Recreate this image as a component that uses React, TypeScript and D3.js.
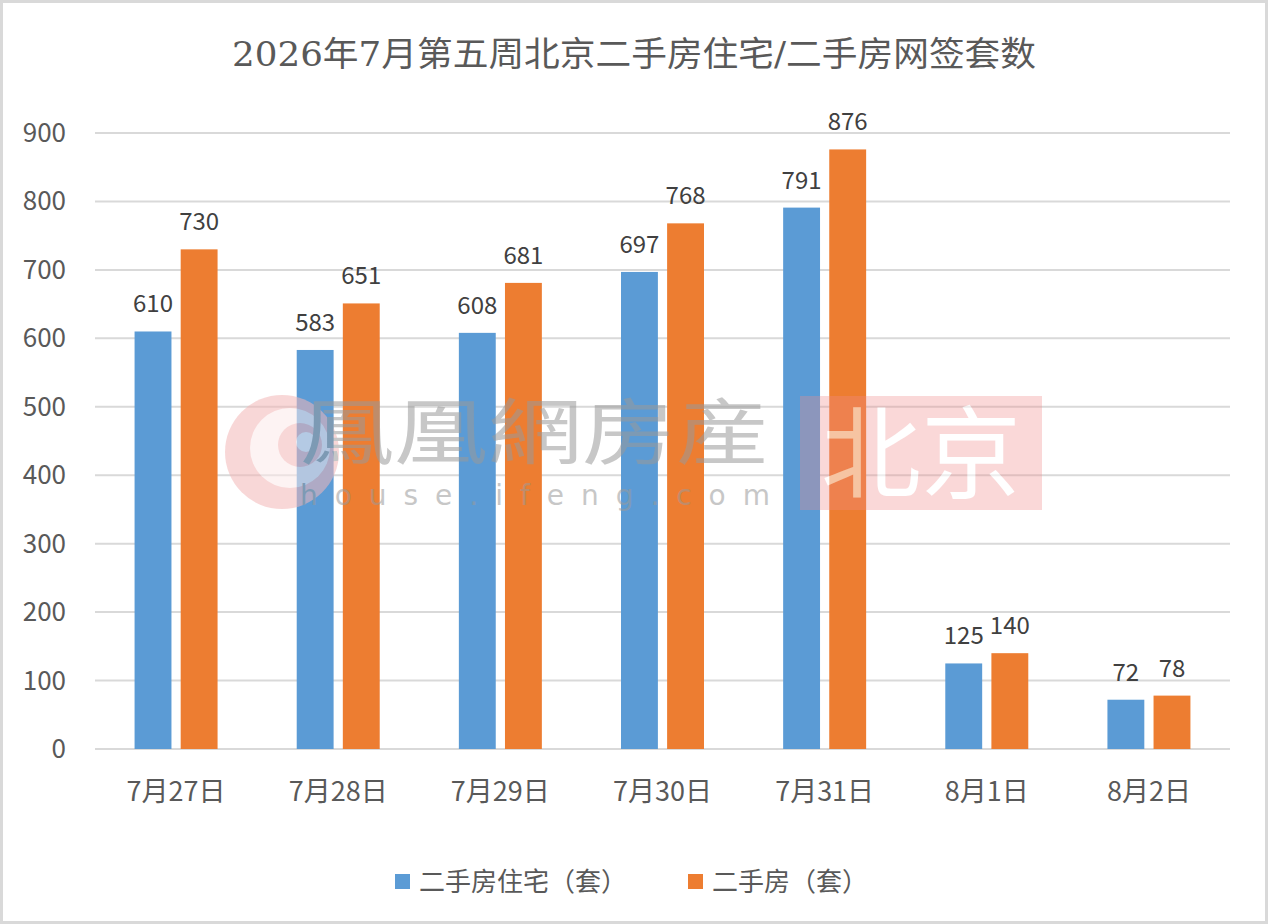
import React, { FC } from "react"
import { scaleBand, scaleLinear, range } from "d3"

// data
const title = "2026年7月第五周北京二手房住宅/二手房网签套数"
const categories = ["7月27日", "7月28日", "7月29日", "7月30日", "7月31日", "8月1日", "8月2日"]
const seriesNames = ["二手房住宅（套）", "二手房（套）"]
const residential = [610, 583, 608, 697, 791, 125, 72]
const total = [730, 651, 681, 768, 876, 140, 78]
const yTicks = [0, 100, 200, 300, 400, 500, 600, 700, 800, 900]

const colors = ["#5B9BD5", "#ED7D31"]
const font = "'Noto Sans CJK SC', 'Noto Sans', sans-serif"

const App: FC = () => {
  // dimensions
  const width = 1268
  const height = 924
  const margins = { left: 95, right: 38, top: 133, bottom: 175 }
  const plotBottom = height - margins.bottom

  // scales
  const yScale = scaleLinear().domain([0, 900]).range([plotBottom, margins.top])
  const xScale = scaleBand<string>()
    .domain(categories)
    .range([margins.left, width - margins.right])
  const step = xScale.bandwidth()
  const innerScale = scaleBand<number>()
    .domain(range(seriesNames.length))
    .range([step / 2 - 41.5, step / 2 + 41.5])
    .paddingInner(0.2)

  const series = [residential, total]

  return (
    <svg
      width={width}
      height={height}
      style={{ position: "absolute", left: 0, top: 0, background: "#fff" }}
      fontFamily={font}
    >
      <rect x={1.5} y={1.5} width={width - 3} height={height - 3} fill="#fff" stroke="#d9d9d9" strokeWidth={3} />

      {/* title */}
      <text
        x={width / 2}
        y={66}
        textAnchor="middle"
        fontSize={34}
        fill="#595959"
        textLength={804}
        lengthAdjust="spacingAndGlyphs"
        fontFamily="'DejaVu Serif', 'Noto Sans CJK SC', serif"
      >
        {title}
      </text>

      {/* grid + y ticks */}
      {yTicks.map((t) => (
        <g key={t}>
          <line
            x1={margins.left}
            x2={width - margins.right}
            y1={yScale(t)}
            y2={yScale(t)}
            stroke="#d9d9d9"
            strokeWidth={2}
          />
          <text x={66} y={yScale(t) + 9} textAnchor="end" fontSize={26} fill="#595959">
            {t}
          </text>
        </g>
      ))}

      {/* bars */}
      {categories.map((c, i) => (
        <g key={c} transform={`translate(${xScale(c)},0)`}>
          {series.map((s, j) => (
            <g key={j}>
              <rect
                x={innerScale(j)}
                y={yScale(s[i])}
                width={innerScale.bandwidth()}
                height={plotBottom - yScale(s[i])}
                fill={colors[j]}
              />
              <text
                x={(innerScale(j) ?? 0) + innerScale.bandwidth() / 2}
                y={yScale(s[i]) - 19}
                textAnchor="middle"
                fontSize={24}
                fill="#404040"
              >
                {s[i]}
              </text>
            </g>
          ))}
          <text x={step / 2} y={801} textAnchor="middle" fontSize={27} fill="#595959">
            {c}
          </text>
        </g>
      ))}

      {/* watermark */}
      <g opacity={0.55}>
        <circle cx={282} cy={452} r={57} fill="#f4b8b8" />
        <circle cx={290} cy={448} r={40} fill="#fff" opacity={0.7} />
        <circle cx={300} cy={445} r={22} fill="#f4b8b8" />
        <circle cx={306} cy={442} r={10} fill="#fff" opacity={0.8} />
        <text x={535} y={458} textAnchor="middle" fontSize={72} fill="#9a9a9a" textLength={470} lengthAdjust="spacingAndGlyphs">
          鳳凰網房産
        </text>
        <text
          x={535}
          y={505}
          textAnchor="middle"
          fontSize={28}
          fill="#9a9a9a"
          textLength={470}
          lengthAdjust="spacing"
          fontFamily="'DejaVu Sans', sans-serif"
        >
          house.ifeng.com
        </text>
        <rect x={800} y={396} width={242} height={114} fill="#f08c8c" opacity={0.6} />
        <text x={921} y={490} textAnchor="middle" fontSize={100} fill="#fff" fontFamily="'DejaVu Serif', 'Noto Sans CJK SC', serif">
          北京
        </text>
      </g>

      {/* legend */}
      {seriesNames.map((n, j) => {
        const lx = [395, 688][j]
        return (
          <g key={n}>
            <rect x={lx} y={874} width={15} height={15} fill={colors[j]} />
            <text x={lx + 24} y={891} fontSize={26} fill="#595959">
              {n}
            </text>
          </g>
        )
      })}
    </svg>
  )
}

export default App
